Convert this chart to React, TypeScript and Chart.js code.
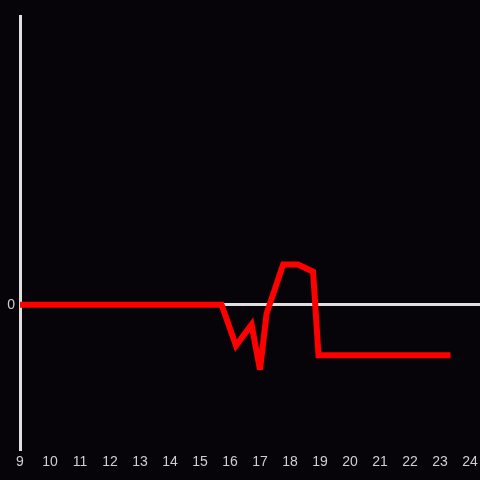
import React, { useEffect, useRef } from "react";
import { Chart, registerables } from "chart.js";

Chart.register(...registerables);

const hours = [9, 15.72, 16.2, 16.72, 17.0, 17.22, 17.77, 18.27, 18.77, 18.95, 23.35];
const values = [0, 0, -1.42, -0.69, -2.25, -0.31, 1.39, 1.39, 1.14, -1.75, -1.75];
const xTicks = [9, 10, 11, 12, 13, 14, 15, 16, 17, 18, 19, 20, 21, 22, 23, 24];
const yTicks = [0];

const BG = "#060409";
const AXIS = "#e0e0e0";
const LABEL = "#cfcfcf";

const miterPlugin = {
  id: "miterLimit",
  beforeDatasetsDraw(chart: any) {
    chart.ctx.miterLimit = 4;
  },
};

export default function App() {
  const ref = useRef<HTMLCanvasElement>(null);
  useEffect(() => {
    document.body.style.margin = "0";
    document.body.style.background = BG;
    const ctx = ref.current!;
    const chart = new Chart(ctx, {
      type: "line",
      data: {
        datasets: [
          {
            data: hours.map((h, i) => ({ x: h, y: values[i] })),
            borderColor: "#ff0000",
            borderWidth: 6,
            pointRadius: 0,
            tension: 0,
            fill: false,
            borderJoinStyle: "miter",
          },
        ],
      },
      plugins: [miterPlugin],
      options: {
        animation: false,
        responsive: false,
        maintainAspectRatio: false,
        layout: { padding: { top: 16, right: 0, left: 0, bottom: 0 } },
        plugins: { legend: { display: false }, tooltip: { enabled: false } },
        scales: {
          x: {
            type: "linear",
            min: 9,
            max: 24.333,
            afterBuildTicks: (s: any) => {
              s.ticks = xTicks.map((v) => ({ value: v }));
            },
            afterFit: (s: any) => {
              s.height = 31;
              s.paddingLeft = 0;
              s.paddingRight = 0;
            },
            grid: { display: false, drawTicks: false },
            border: { display: false },
            ticks: {
              color: LABEL,
              padding: 5,
              autoSkip: false,
              maxRotation: 0,
              font: { family: "'Liberation Sans', Arial, sans-serif", size: 14 },
              callback: (v: any) => String(v),
            },
          },
          y: {
            min: -5,
            max: 10,
            afterBuildTicks: (s: any) => {
              s.ticks = yTicks.map((v) => ({ value: v }));
            },
            afterFit: (s: any) => {
              s.width = 20;
              s.paddingTop = 0;
              s.paddingBottom = 0;
            },
            grid: { color: AXIS, lineWidth: 3, drawTicks: false },
            border: { display: true, color: AXIS, width: 3 },
            ticks: {
              color: LABEL,
              padding: 5,
              font: { family: "'Liberation Sans', Arial, sans-serif", size: 14 },
              callback: (v: any) => String(v),
            },
          },
        },
      },
    });
    return () => chart.destroy();
  }, []);
  return (
    <div style={{ width: 480, height: 480, background: BG }}>
      <canvas ref={ref} width={480} height={480} style={{ display: "block" }} />
    </div>
  );
}
